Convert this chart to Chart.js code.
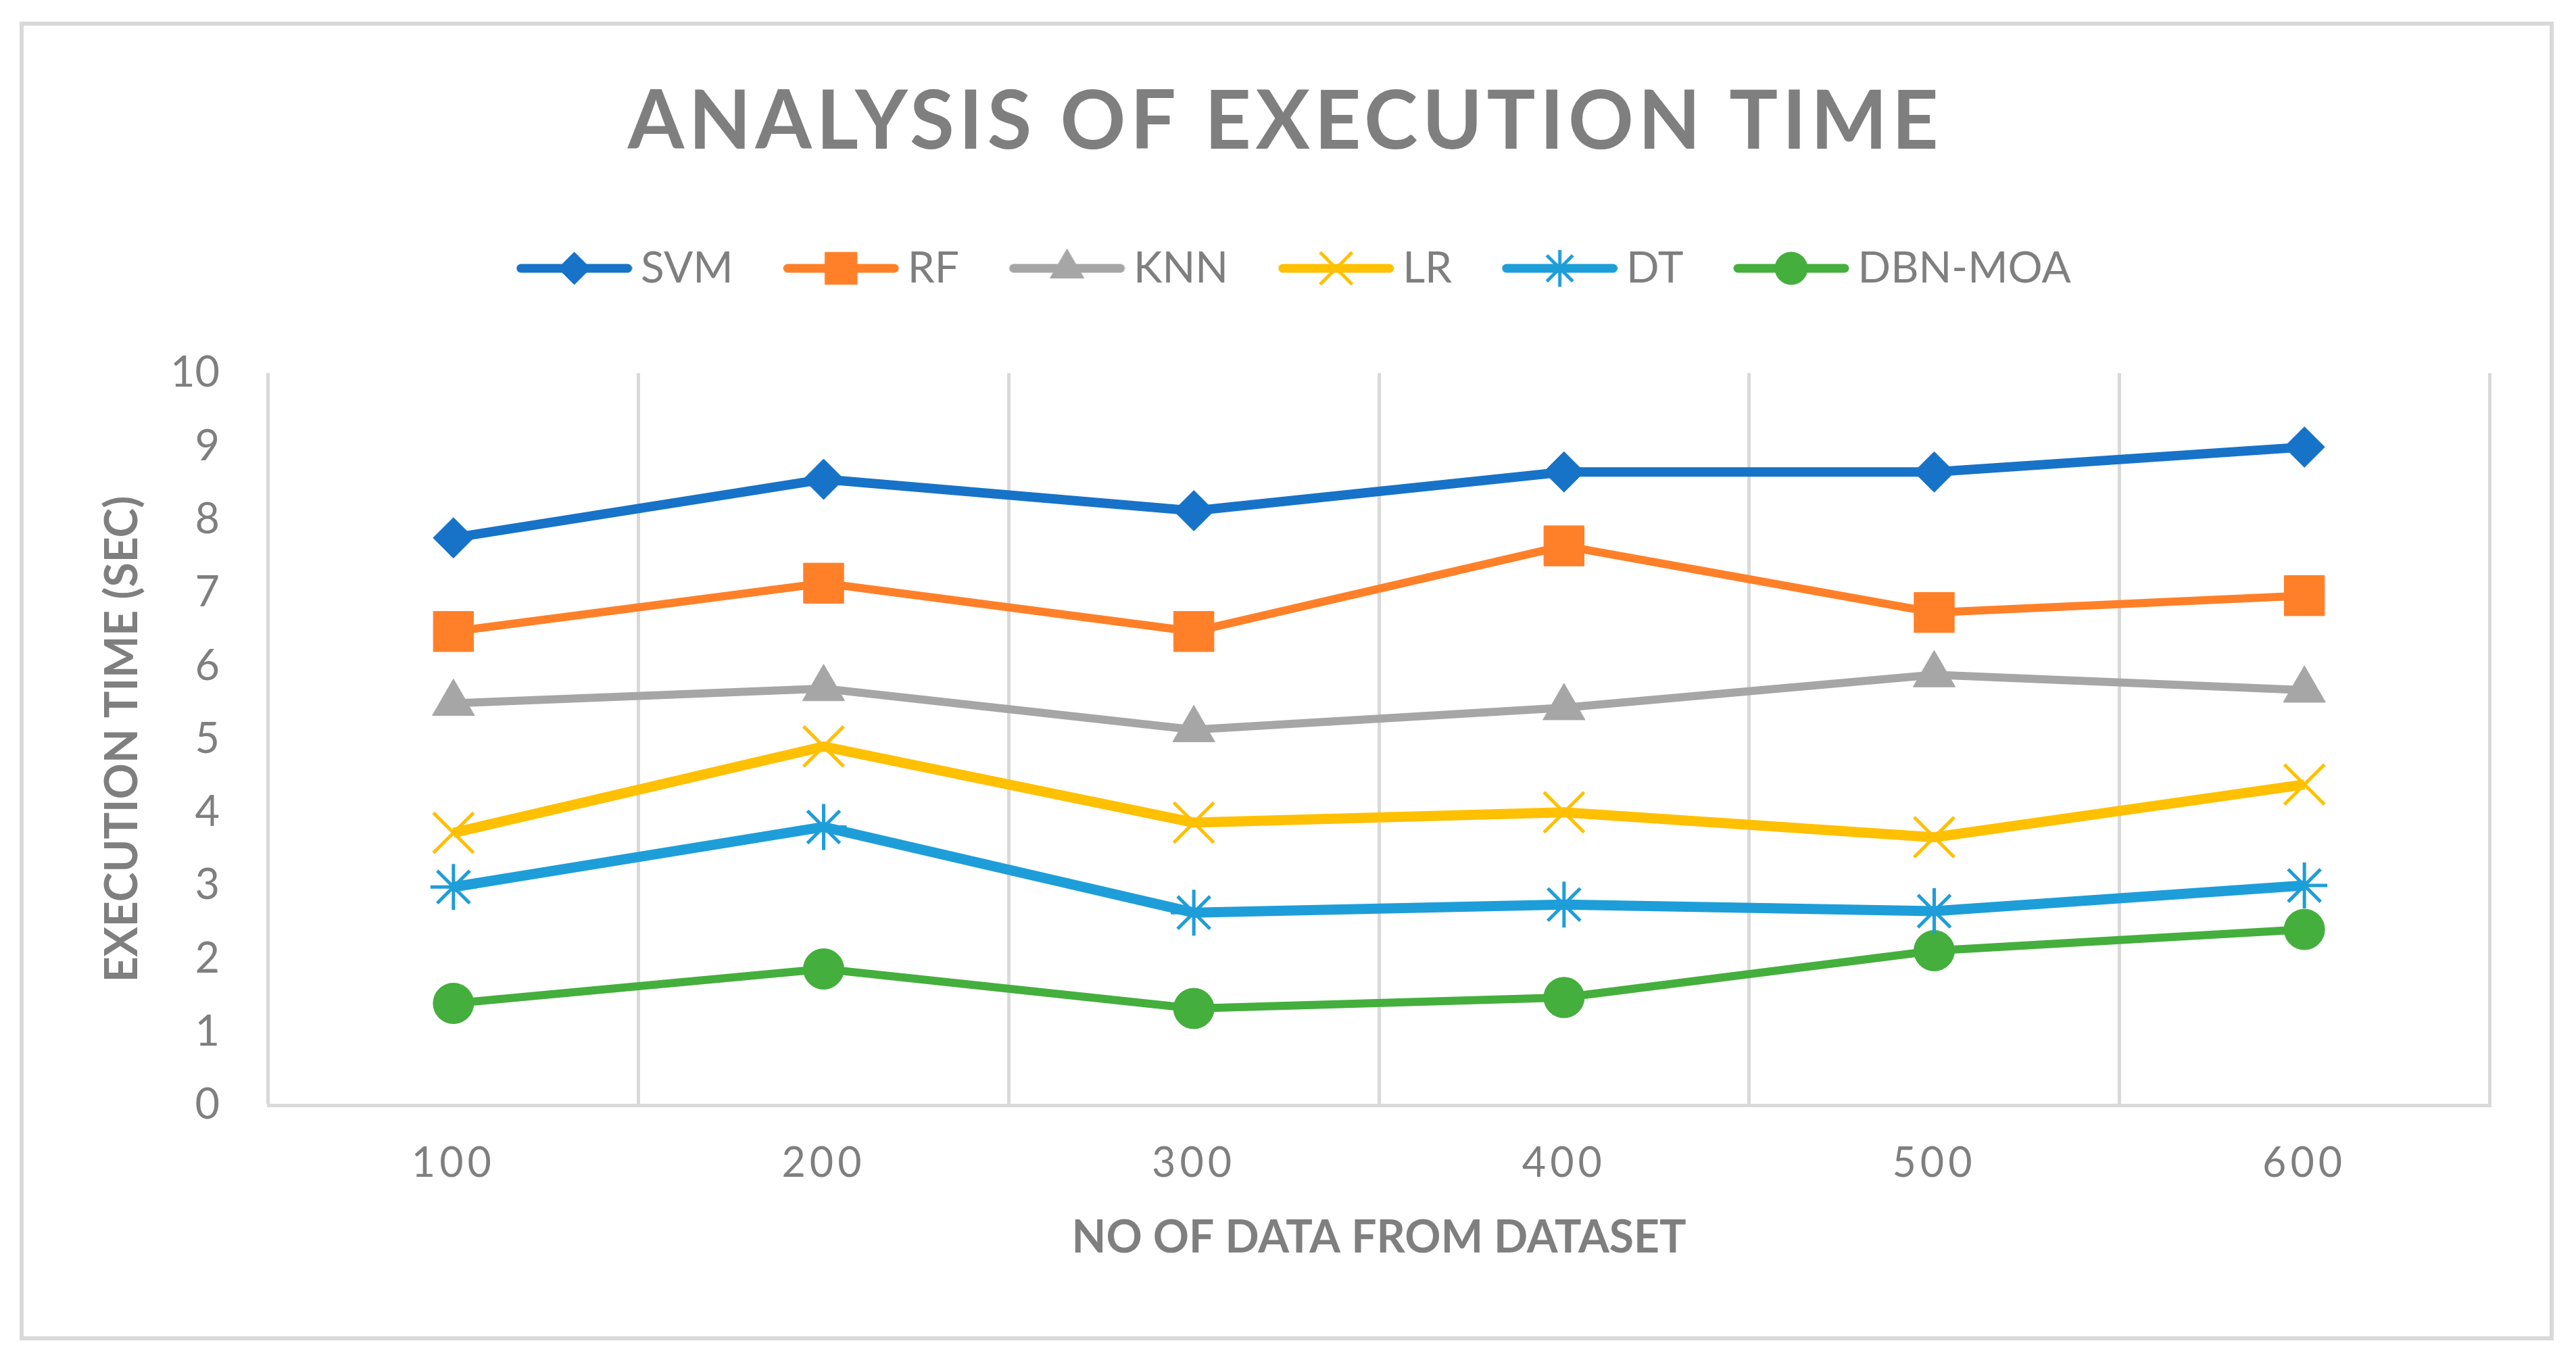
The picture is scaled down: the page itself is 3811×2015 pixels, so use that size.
<!DOCTYPE html>
<html>
<head>
<meta charset="utf-8">
<script src="https://cdn.jsdelivr.net/npm/chart.js"></script>
<style>
html, body { margin: 0; padding: 0; background: #fff; }
#frame { position: absolute; left: 29px; top: 32px; width: 3749px; height: 1951px; border: 6px solid #d9d9d9; box-sizing: border-box; }
#wrap { position: absolute; left: 0; top: 0; width: 3811px; height: 2015px; }
</style>
</head>
<body>
<div id="frame"></div>
<div id="wrap"><canvas id="myChart"></canvas></div>
<script>
// x categories (no of data from dataset)
const labels = ['100', '200', '300', '400', '500', '600'];

// execution time (sec)
const svm    = [7.75, 8.55, 8.12, 8.65, 8.65, 8.99];
const rf     = [6.47, 7.13, 6.47, 7.64, 6.73, 6.96];
const knn    = [5.49, 5.69, 5.13, 5.43, 5.88, 5.67];
const lr     = [3.72, 4.90, 3.86, 4.00, 3.66, 4.38];
const dt     = [2.98, 3.80, 2.63, 2.74, 2.65, 3.00];
const dbnMoa = [1.39, 1.86, 1.32, 1.47, 2.11, 2.40];

const yTicks = [0, 1, 2, 3, 4, 5, 6, 7, 8, 9, 10];

const grey = '#7f7f7f';
const gridCol = '#d9d9d9';

function series(label, data, color, style, radius, width, pbw) {
    return {
        label: label,
        data: data,
        borderColor: color,
        backgroundColor: color,
        borderWidth: width,
        tension: 0,
        pointStyle: style,
        pointRadius: radius,
        pointHoverRadius: radius,
        pointBorderWidth: pbw,
        pointBackgroundColor: color,
        pointBorderColor: color
    };
}

const datasets = [
    series('SVM', svm, '#1773c7', 'rectRot', 30, 14, 1),
    series('RF', rf, '#ff8028', 'rect', 42, 12, 1),
    series('KNN', knn, '#a6a6a6', 'triangle', 36, 12, 1),
    series('LR', lr, '#ffc000', 'crossRot', 42, 15, 5),
    series('DT', dt, '#1e9ed8', 'star', 34, 15, 5),
    series('DBN-MOA', dbnMoa, '#44af3c', 'circle', 30, 12, 1)
];

// legend sample: a short line with the marker on it
function legendIcon(ds) {
    const c = document.createElement('canvas');
    c.width = 172;
    c.height = 64;
    const g = c.getContext('2d');
    g.strokeStyle = ds.borderColor;
    g.fillStyle = ds.borderColor;
    g.lineCap = 'round';
    g.lineWidth = 13;
    g.beginPath();
    g.moveTo(7, 32);
    g.lineTo(165, 32);
    g.stroke();
    g.lineCap = 'butt';
    g.lineWidth = ds.pointBorderWidth;
    Chart.helpers.drawPoint(g, {
        pointStyle: ds.pointStyle,
        radius: ds.pointRadius * 0.8,
        rotation: 0,
        borderWidth: ds.pointBorderWidth
    }, 86, 32);
    return c;
}

const legendGap = {
    id: 'legendGap',
    beforeLayout(chart) {
        const lg = chart.legend;
        if (lg && !lg._gap) {
            const f = lg.fit;
            lg.fit = function () { f.call(this); this.height += 113; };
            const ld = lg.draw;
            lg.draw = function () {
                chart.ctx.save();
                chart.ctx.translate(22, 0);
                ld.apply(this, arguments);
                chart.ctx.restore();
            };
            lg._gap = true;
        }
        const t = chart.titleBlock;
        if (t && !t._spaced) {
            const d = t.draw;
            t.draw = function () { chart.ctx.letterSpacing = '6.5px'; d.apply(this, arguments); chart.ctx.letterSpacing = '0px'; };
            t._spaced = true;
        }
        const x = chart.scales.x;
        if (x && !x._spaced) {
            const dl = x.drawLabels;
            x.drawLabels = function () { chart.ctx.letterSpacing = '6px'; dl.apply(this, arguments); chart.ctx.letterSpacing = '0px'; };
            x._spaced = true;
        }
    }
};

const ctx = document.getElementById('myChart');
new Chart(ctx, {
    type: 'line',
    data: {
        labels: labels,
        datasets: datasets
    },
    options: {
        responsive: true,
        maintainAspectRatio: false,
        animation: false,
        layout: {
            padding: { top: 0, left: 120, right: 128, bottom: 100 }
        },
        plugins: {
            title: {
                display: true,
                text: 'ANALYSIS OF EXECUTION TIME',
                color: grey,
                font: { family: 'Lato', size: 120, weight: 'bold', lineHeight: 1.2 },
                padding: { top: 109, bottom: 19 }
            },
            legend: {
                labels: {
                    usePointStyle: true,
                    pointStyleWidth: 133,
                    padding: 93,
                    color: grey,
                    font: { family: 'Lato', size: 64 },
                    generateLabels: chart => chart.data.datasets.map((ds, i) => ({
                        text: ds.label,
                        fillStyle: ds.borderColor,
                        strokeStyle: ds.borderColor,
                        lineWidth: 0,
                        pointStyle: legendIcon(ds),
                        fontColor: grey,
                        hidden: false,
                        datasetIndex: i
                    }))
                }
            },
            tooltip: { enabled: false }
        },
        scales: {
            x: {
                offset: true,
                grid: { offset: true, color: gridCol, lineWidth: 5, drawTicks: false },
                border: { color: gridCol, width: 5 },
                ticks: { color: grey, font: { family: 'Lato', size: 61 }, padding: 50 },
                title: {
                    display: true,
                    text: 'NO OF DATA FROM DATASET',
                    color: grey,
                    font: { family: 'Lato', size: 66, weight: 'bold', lineHeight: 1.2 },
                    padding: { top: 0, bottom: 44 }
                },
                afterFit: s => { s.height = 280; }
            },
            y: {
                min: yTicks[0],
                max: yTicks[yTicks.length - 1],
                grid: { display: false, drawTicks: false },
                border: { display: false },
                ticks: {
                    stepSize: 1,
                    color: grey,
                    font: { family: 'Lato', size: 63 },
                    padding: 72
                },
                afterBuildTicks: s => { s.ticks = yTicks.map(v => ({ value: v })); },
                title: {
                    display: true,
                    text: 'EXECUTION TIME (SEC)',
                    color: grey,
                    font: { family: 'Lato', size: 66, weight: 'bold', lineHeight: 1.2 },
                    padding: { top: 22, bottom: 0 }
                },
                afterFit: s => { s.width = 277; }
            }
        }
    },
    plugins: [legendGap]
});
</script>
</body>
</html>
